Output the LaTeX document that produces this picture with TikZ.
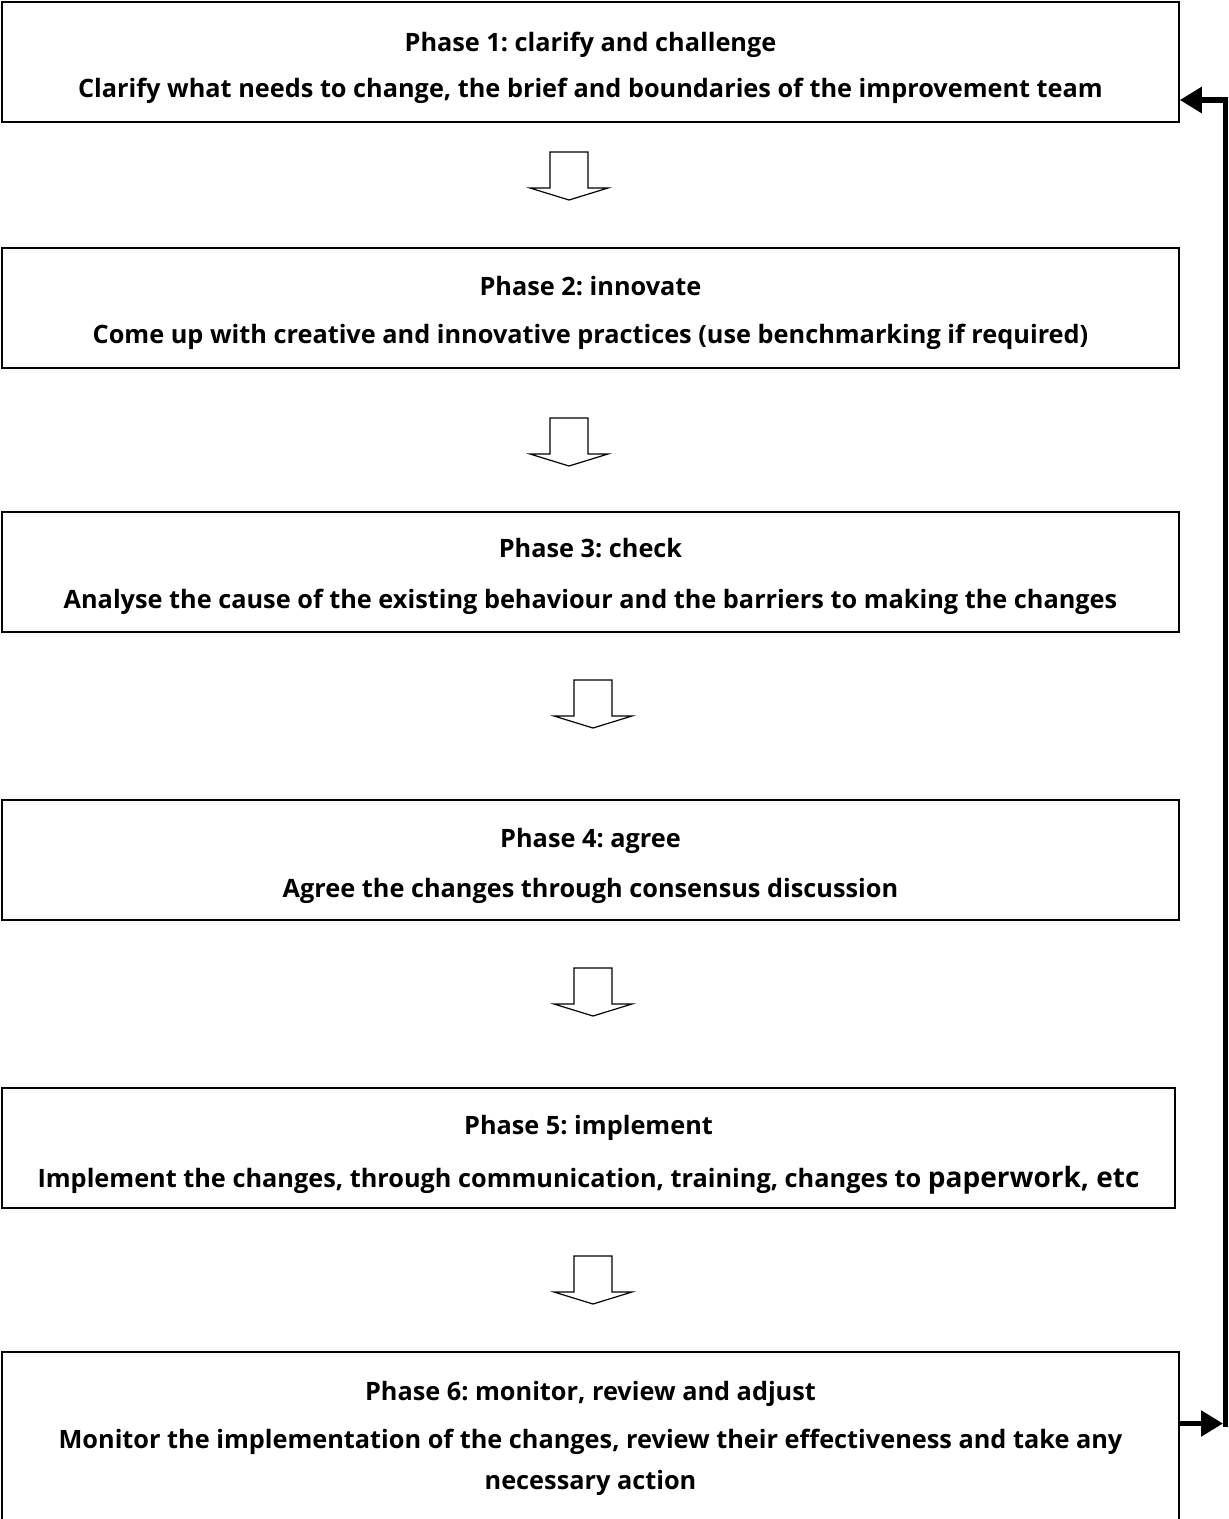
\documentclass[tikz,border=0pt]{standalone}
\usepackage{fontspec}
\setmainfont{Open Sans}
\usetikzlibrary{arrows.meta,positioning}

\tikzset{
  phasebox/.style={draw, line width=1.5pt, minimum width=1177pt, minimum height=120pt, inner sep=0pt},
  phasetext/.style={font=\fontsize{25.3}{41}\selectfont\bfseries\frenchspacing, anchor=base, inner sep=0pt, align=center},
  feedback/.style={line width=5.5pt, line join=miter, -{Triangle[length=22pt,width=25pt]}},
}
% block arrow between two phases: #1 = centre x, #2 = top y
\newcommand{\phasearrow}[2]{%
  \draw[line width=1.2pt, line join=miter] (#1-19,#2) -- (#1+19,#2) -- (#1+19,#2+36) -- (#1+39,#2+36)
    -- (#1,#2+48) -- (#1-39,#2+36) -- (#1-19,#2+36) -- cycle;}

\begin{document}
\begin{tikzpicture}[x=1pt,y=-1pt]
\useasboundingbox (0,0) rectangle (1229,1519);

%Phase 1
\node[phasebox] (p1) at (590.5,62) {};
\node[phasetext] (t1) at (590.5,51) {Phase 1: clarify and challenge};
\node[phasetext] (d1) at (590.5,97) {Clarify what needs to change, the brief and boundaries of the improvement team};
\phasearrow{569}{152}

%Phase 2
\node[phasebox] (p2) at (590.5,308) {};
\node[phasetext] (t2) at (590.5,295) {Phase 2: innovate};
\node[phasetext] (d2) at (590.5,343) {Come up with creative and innovative practices (use benchmarking if required)};
\phasearrow{569}{418}

%Phase 3
\node[phasebox] (p3) at (590.5,572) {};
\node[phasetext] (t3) at (590.5,557) {Phase 3: check};
\node[phasetext] (d3) at (590.5,608) {Analyse the cause of the existing behaviour and the barriers to making the changes};
\phasearrow{593}{680}

%Phase 4
\node[phasebox] (p4) at (590.5,860) {};
\node[phasetext] (t4) at (590.5,847) {Phase 4: agree};
\node[phasetext] (d4) at (590.5,897) {Agree the changes through consensus discussion};
\phasearrow{593}{968}

%Phase 5
\node[phasebox, minimum width=1173pt] (p5) at (588.5,1148) {};
\node[phasetext] (t5) at (588.5,1134) {Phase 5: implement};
\node[phasetext] (d5) at (588.5,1187) {Implement the changes, through communication, training, changes to {\fontsize{28}{41}\selectfont paperwork, etc}};
\phasearrow{593}{1256}

%Phase 6
\node[phasebox, minimum height=170pt] (p6) at (590.5,1437) {};
\node[phasetext] (t6) at (590.5,1400) {Phase 6: monitor, review and adjust};
\node[phasetext] (d6) at (590.5,1489) {Monitor the implementation of the changes, review their effectiveness and take any\\necessary action};

%Feedback loop
\coordinate (fbin) at (1223,1423.5);
\coordinate (fbbot) at (1225.5,1426.5);
\coordinate (fbtop) at (1225.5,100);
\draw[feedback] (p6.east |- fbin) -- (fbin);
\draw[feedback] (fbbot) -- (fbtop) -- (fbtop -| p1.east);
\end{tikzpicture}
\end{document}
